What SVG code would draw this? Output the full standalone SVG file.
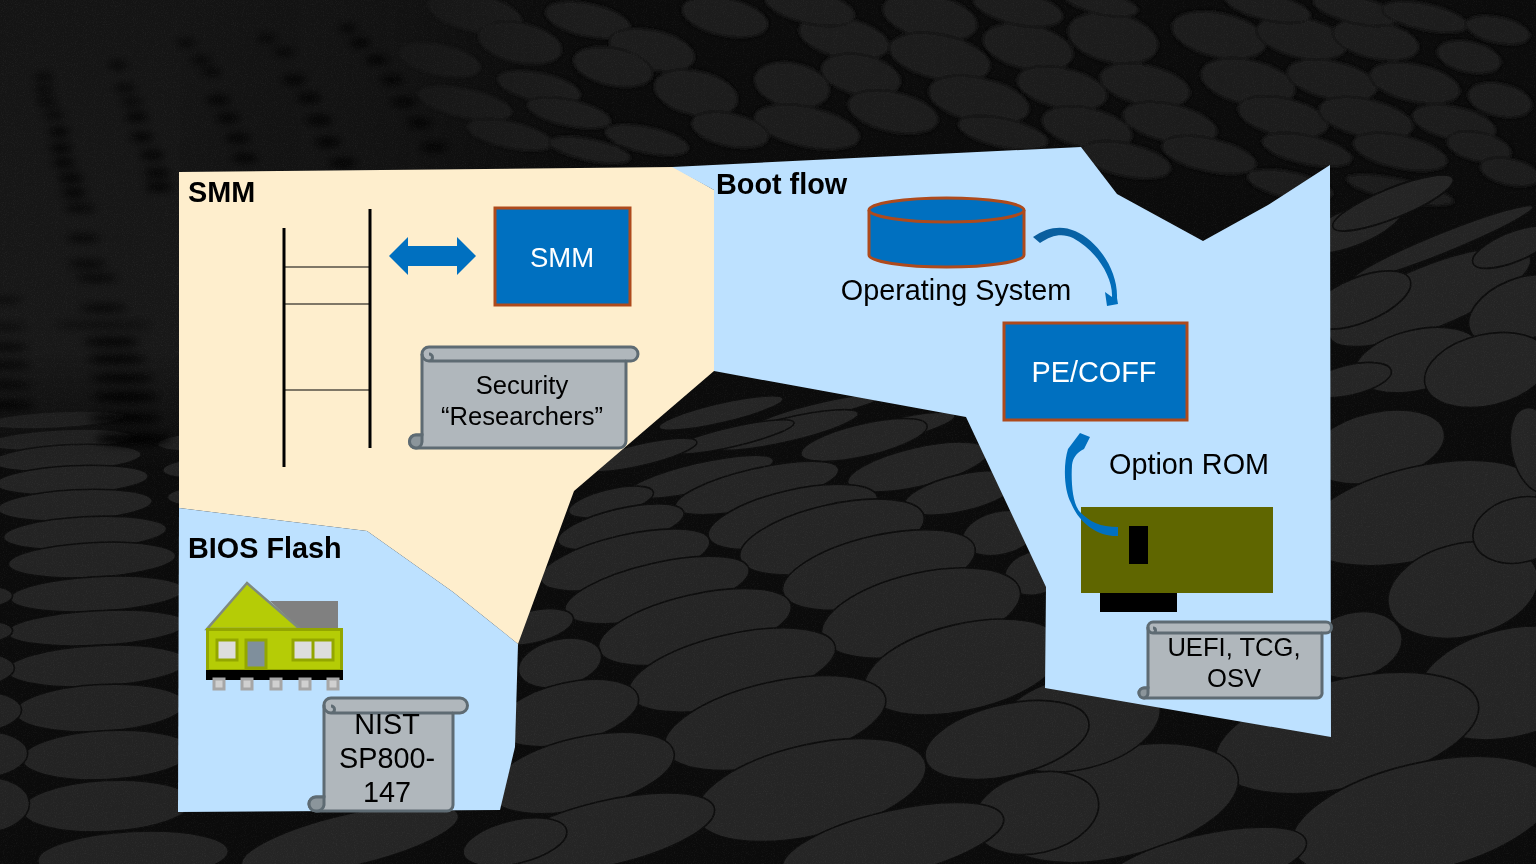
<svg xmlns="http://www.w3.org/2000/svg" width="1536" height="864" viewBox="0 0 1536 864">
<style>
text{font-family:"Liberation Sans",Arial,sans-serif;fill:#000;text-anchor:middle}
.b{font-weight:700;font-size:28.8px;text-anchor:start}
.t{font-size:28.8px}.s{font-size:25.6px}.w{fill:#fff}
.box{fill:#0070c0;stroke:#ae4a1c;stroke-width:3}
.scroll{fill:#b0b7bc;stroke:#5e6b73;stroke-width:3;stroke-linejoin:round}
.curl{fill:#8b959b;stroke:#5e6b73;stroke-width:3}
.rl{fill:none;stroke:#5e6b73;stroke-width:3}
.lad{stroke:#000;stroke-width:3}.rung{stroke:#000;stroke-width:1}
.arr{fill:#0070c0}
.hw{stroke:#93a600;stroke-width:3}
.pin{fill:#d0d0d0;stroke:#a6a6a6;stroke-width:3}
.e ellipse{transform-box:fill-box;transform-origin:center}
.m ellipse{transform:rotate(-13deg) scale(1.06,1.08);stroke:#0d0d0d;stroke-width:1.500}
.r ellipse{transform:rotate(12deg) scale(1.1,1.12);stroke:#0e0e0e;stroke-width:1.500}
.l ellipse{transform:rotate(-3deg) scale(1.06,1.02);stroke:#0d0d0d;stroke-width:1.500}
.q ellipse{transform:rotate(-22deg) scale(1.08,1.25);stroke:#0d0d0d;stroke-width:1.500}
</style>
<defs>
<filter id="soft" x="-20%" y="-20%" width="140%" height="140%"><feGaussianBlur stdDeviation="1.500"/></filter>
<filter id="soft2" x="-50%" y="-200%" width="200%" height="500%"><feGaussianBlur stdDeviation="4"/></filter>
<filter id="grain" x="0" y="0" width="100%" height="100%"><feTurbulence type="fractalNoise" baseFrequency="0.9" numOctaves="2" seed="4"/><feColorMatrix values="0 0 0 0 0.5 0 0 0 0 0.5 0 0 0 0 0.5 1.6 0 0 0 -0.75"/></filter>
<linearGradient id="hazeV" x1="0" y1="0" x2="0" y2="1"><stop offset="0" stop-color="#141414"/><stop offset="0.75" stop-color="#181818"/><stop offset="1" stop-color="#181818" stop-opacity="0"/></linearGradient>
<linearGradient id="hazeH" x1="0" y1="0" x2="1" y2="0"><stop offset="0" stop-color="#141414"/><stop offset="0.5" stop-color="#141414" stop-opacity=".85"/><stop offset="1" stop-color="#141414" stop-opacity="0"/></linearGradient>
<linearGradient id="a1" x1="0" y1="0" x2="1" y2="1"><stop offset="0" stop-color="#0b5c9a"/><stop offset="1" stop-color="#0070c0"/></linearGradient>
</defs>

<g id="background">
<rect width="1536" height="864" fill="#0b0b0b"/>
<g class="e r" fill="#1e1e1e" filter="url(#soft)">
<ellipse cx="930" cy="17" rx="44" ry="20"/><ellipse cx="844" cy="38" rx="42" ry="18"/><ellipse cx="940" cy="57" rx="47" ry="20"/><ellipse cx="1028" cy="47" rx="42" ry="20"/><ellipse cx="1113" cy="38" rx="42" ry="22"/><ellipse cx="1219" cy="35" rx="44" ry="20"/><ellipse cx="1302" cy="38" rx="42" ry="18"/><ellipse cx="1376" cy="40" rx="40" ry="17"/>
<ellipse cx="792" cy="85" rx="35" ry="20"/><ellipse cx="861" cy="75" rx="37" ry="18"/><ellipse cx="979" cy="100" rx="47" ry="20"/><ellipse cx="1062" cy="88" rx="42" ry="18"/><ellipse cx="1145" cy="85" rx="42" ry="18"/><ellipse cx="1248" cy="82" rx="44" ry="20"/><ellipse cx="1332" cy="80" rx="42" ry="17"/><ellipse cx="1415" cy="83" rx="42" ry="17"/>
<ellipse cx="893" cy="112" rx="42" ry="18"/><ellipse cx="807" cy="127" rx="49" ry="18"/><ellipse cx="1003" cy="133" rx="42" ry="13"/><ellipse cx="1087" cy="128" rx="42" ry="18"/><ellipse cx="1170" cy="123" rx="44" ry="17"/><ellipse cx="1283" cy="117" rx="42" ry="17"/><ellipse cx="1366" cy="118" rx="44" ry="17"/><ellipse cx="1454" cy="123" rx="39" ry="15"/>
<ellipse cx="1307" cy="150" rx="42" ry="13"/><ellipse cx="1400" cy="152" rx="44" ry="15"/><ellipse cx="1209" cy="155" rx="44" ry="15"/><ellipse cx="1126" cy="160" rx="42" ry="15"/><ellipse cx="1479" cy="147" rx="30" ry="13"/>
<ellipse cx="810" cy="7" rx="42" ry="15"/><ellipse cx="1018" cy="8" rx="42" ry="15"/><ellipse cx="1101" cy="3" rx="35" ry="10"/><ellipse cx="1268" cy="7" rx="40" ry="12"/><ellipse cx="1356" cy="10" rx="40" ry="12"/><ellipse cx="1425" cy="17" rx="40" ry="12"/><ellipse cx="1498" cy="30" rx="30" ry="12"/><ellipse cx="1469" cy="57" rx="30" ry="14"/><ellipse cx="1500" cy="100" rx="30" ry="15"/><ellipse cx="1510" cy="172" rx="28" ry="12"/><ellipse cx="1400" cy="190" rx="50" ry="10"/><ellipse cx="1290" cy="185" rx="40" ry="12"/>
<ellipse cx="475" cy="13" rx="44" ry="17"/><ellipse cx="520" cy="43" rx="39" ry="18"/><ellipse cx="588" cy="20" rx="40" ry="15"/><ellipse cx="652" cy="50" rx="40" ry="18"/><ellipse cx="725" cy="17" rx="40" ry="17"/><ellipse cx="613" cy="67" rx="37" ry="17"/><ellipse cx="696" cy="93" rx="39" ry="20"/><ellipse cx="539" cy="87" rx="39" ry="13"/><ellipse cx="465" cy="103" rx="44" ry="13"/><ellipse cx="569" cy="113" rx="39" ry="12"/><ellipse cx="647" cy="140" rx="39" ry="12"/><ellipse cx="730" cy="130" rx="36" ry="15"/><ellipse cx="510" cy="135" rx="40" ry="12"/><ellipse cx="590" cy="150" rx="38" ry="10"/><ellipse cx="440" cy="60" rx="38" ry="14"/>
</g>
<g class="e q" fill="#242424">
<ellipse cx="1430" cy="297" rx="100" ry="25"/><ellipse cx="1443" cy="243" rx="90" ry="8"/><ellipse cx="1513" cy="247" rx="40" ry="12"/><ellipse cx="1353" cy="227" rx="50" ry="15"/><ellipse cx="1393" cy="203" rx="60" ry="12"/><ellipse cx="1520" cy="310" rx="50" ry="25"/><ellipse cx="1360" cy="300" rx="50" ry="18"/>
</g>
<g class="e m" fill="#252525">
<ellipse cx="1417" cy="360" rx="60" ry="28"/><ellipse cx="1487" cy="370" rx="60" ry="33"/><ellipse cx="1377" cy="447" rx="65" ry="32"/><ellipse cx="1420" cy="513" rx="113" ry="43"/><ellipse cx="1463" cy="590" rx="72" ry="43"/><ellipse cx="1355" cy="645" rx="45" ry="30"/><ellipse cx="1535" cy="450" rx="22" ry="40"/><ellipse cx="1520" cy="530" rx="45" ry="30"/><ellipse cx="1350" cy="380" rx="40" ry="14"/>
<ellipse cx="1510" cy="683" rx="90" ry="50"/><ellipse cx="1347" cy="733" rx="127" ry="50"/><ellipse cx="1423" cy="817" rx="127" ry="50"/><ellipse cx="1117" cy="803" rx="117" ry="50"/><ellipse cx="1077" cy="723" rx="80" ry="43"/><ellipse cx="1203" cy="865" rx="100" ry="28"/>
<ellipse cx="821" cy="410" rx="60" ry="7"/><ellipse cx="721" cy="413" rx="60" ry="9"/><ellipse cx="893" cy="430" rx="60" ry="10"/><ellipse cx="786" cy="430" rx="70" ry="11"/><ellipse cx="732" cy="437" rx="60" ry="9"/><ellipse cx="864" cy="440" rx="61" ry="15"/><ellipse cx="640" cy="455" rx="55" ry="10"/><ellipse cx="918" cy="467" rx="68" ry="18"/><ellipse cx="700" cy="477" rx="71" ry="13"/><ellipse cx="757" cy="488" rx="79" ry="18"/><ellipse cx="961" cy="493" rx="55" ry="17"/><ellipse cx="611" cy="502" rx="41" ry="12"/><ellipse cx="793" cy="517" rx="82" ry="25"/><ellipse cx="621" cy="527" rx="61" ry="17"/><ellipse cx="1000" cy="533" rx="36" ry="20"/><ellipse cx="832" cy="537" rx="89" ry="30"/><ellipse cx="625" cy="560" rx="82" ry="23"/><ellipse cx="879" cy="570" rx="93" ry="32"/><ellipse cx="1036" cy="573" rx="30" ry="20"/><ellipse cx="657" cy="590" rx="89" ry="25"/><ellipse cx="921" cy="613" rx="96" ry="37"/><ellipse cx="532" cy="627" rx="40" ry="15"/><ellipse cx="695" cy="627" rx="93" ry="30"/><ellipse cx="560" cy="663" rx="40" ry="22"/><ellipse cx="964" cy="667" rx="96" ry="40"/><ellipse cx="732" cy="670" rx="100" ry="33"/><ellipse cx="568" cy="713" rx="68" ry="28"/><ellipse cx="775" cy="723" rx="107" ry="38"/><ellipse cx="1007" cy="740" rx="79" ry="33"/><ellipse cx="582" cy="773" rx="89" ry="33"/><ellipse cx="811" cy="790" rx="111" ry="42"/><ellipse cx="1036" cy="813" rx="60" ry="37"/><ellipse cx="607" cy="833" rx="104" ry="30"/><ellipse cx="893" cy="843" rx="107" ry="30"/>
<ellipse cx="350" cy="840" rx="105" ry="24"/><ellipse cx="515" cy="842" rx="50" ry="20"/>
</g>
<g class="e l" fill="#232323">
<ellipse cx="55" cy="420" rx="65" ry="8"/><ellipse cx="60" cy="440" rx="68" ry="10"/><ellipse cx="67" cy="458" rx="70" ry="13"/><ellipse cx="72" cy="480" rx="72" ry="14"/><ellipse cx="75" cy="505" rx="73" ry="15"/><ellipse cx="85" cy="533" rx="77" ry="16"/><ellipse cx="92" cy="560" rx="79" ry="17"/><ellipse cx="97" cy="594" rx="82" ry="17"/><ellipse cx="97" cy="628" rx="85" ry="17"/><ellipse cx="97" cy="666" rx="85" ry="20"/><ellipse cx="100" cy="708" rx="80" ry="23"/><ellipse cx="107" cy="755" rx="80" ry="24"/><ellipse cx="107" cy="806" rx="80" ry="25"/><ellipse cx="133" cy="856" rx="90" ry="24"/>
<ellipse cx="-35" cy="598" rx="45" ry="13"/><ellipse cx="-35" cy="633" rx="45" ry="13"/><ellipse cx="-30" cy="670" rx="42" ry="17"/><ellipse cx="-25" cy="712" rx="44" ry="20"/><ellipse cx="-20" cy="755" rx="45" ry="23"/><ellipse cx="-15" cy="805" rx="42" ry="27"/>
<ellipse cx="200" cy="442" rx="40" ry="9"/><ellipse cx="205" cy="468" rx="40" ry="10"/><ellipse cx="215" cy="495" rx="45" ry="11"/>
</g>
<rect x="0" y="0" width="180" height="470" fill="url(#hazeV)"/>
<rect x="180" y="0" width="400" height="172" fill="url(#hazeH)"/>
<g fill="#000" filter="url(#soft2)">
<ellipse cx="44" cy="77" rx="10" ry="3"/><ellipse cx="44" cy="90" rx="10" ry="3"/><ellipse cx="47" cy="102" rx="11" ry="3"/><ellipse cx="54" cy="115" rx="11" ry="3"/><ellipse cx="59" cy="132" rx="11" ry="4"/><ellipse cx="61" cy="148" rx="12" ry="4"/><ellipse cx="64" cy="163" rx="12" ry="4"/><ellipse cx="71" cy="178" rx="13" ry="4"/><ellipse cx="74" cy="193" rx="13" ry="4"/>
<ellipse cx="118" cy="65" rx="10" ry="3"/><ellipse cx="125" cy="88" rx="11" ry="3"/><ellipse cx="132" cy="102" rx="11" ry="3"/><ellipse cx="137" cy="117" rx="12" ry="4"/><ellipse cx="142" cy="137" rx="12" ry="4"/><ellipse cx="152" cy="155" rx="13" ry="4"/><ellipse cx="157" cy="173" rx="13" ry="4"/><ellipse cx="159" cy="187" rx="14" ry="4"/>
<ellipse cx="186" cy="43" rx="10" ry="3"/><ellipse cx="201" cy="60" rx="11" ry="3"/><ellipse cx="211" cy="72" rx="11" ry="3"/><ellipse cx="218" cy="100" rx="12" ry="4"/><ellipse cx="228" cy="118" rx="12" ry="4"/><ellipse cx="238" cy="138" rx="13" ry="4"/><ellipse cx="245" cy="158" rx="13" ry="4"/>
<ellipse cx="267" cy="38" rx="10" ry="3"/><ellipse cx="284" cy="52" rx="11" ry="3"/><ellipse cx="294" cy="80" rx="12" ry="4"/><ellipse cx="309" cy="98" rx="12" ry="4"/><ellipse cx="319" cy="120" rx="13" ry="4"/><ellipse cx="328" cy="142" rx="13" ry="4"/><ellipse cx="343" cy="163" rx="14" ry="4"/>
<ellipse cx="348" cy="28" rx="10" ry="3"/><ellipse cx="360" cy="43" rx="11" ry="4"/><ellipse cx="377" cy="60" rx="12" ry="4"/><ellipse cx="392" cy="80" rx="12" ry="4"/><ellipse cx="404" cy="102" rx="13" ry="4"/><ellipse cx="419" cy="123" rx="13" ry="4"/><ellipse cx="434" cy="147" rx="14" ry="4"/>
<ellipse cx="80" cy="208" rx="16" ry="3"/><ellipse cx="83" cy="238" rx="18" ry="3"/><ellipse cx="87" cy="264" rx="20" ry="3"/><ellipse cx="97" cy="278" rx="22" ry="3"/><ellipse cx="103" cy="308" rx="24" ry="3"/><ellipse cx="103" cy="325" rx="50" ry="2"/><ellipse cx="112" cy="342" rx="28" ry="4"/><ellipse cx="117" cy="359" rx="30" ry="4"/><ellipse cx="122" cy="378" rx="32" ry="4"/><ellipse cx="125" cy="397" rx="34" ry="5"/><ellipse cx="125" cy="418" rx="36" ry="5"/><ellipse cx="133" cy="439" rx="38" ry="6"/>
<ellipse cx="5" cy="300" rx="18" ry="2"/><ellipse cx="5" cy="327" rx="22" ry="2"/><ellipse cx="5" cy="347" rx="24" ry="3"/><ellipse cx="5" cy="365" rx="26" ry="3"/><ellipse cx="5" cy="385" rx="28" ry="3"/><ellipse cx="5" cy="405" rx="30" ry="4"/>
</g>
<rect width="1536" height="864" filter="url(#grain)" opacity=".1"/>
</g>

<g id="panels">
<polygon id="panel-smm" fill="#feeecd" points="179,172 674,167 714,190 714,371 574,491 518,644 453,592 367,531 179,508"/>
<polygon id="panel-bios" fill="#bde1ff" points="179,508 367,531 453,592 518,644 515,747 500,810 178,812"/>
<polygon id="panel-boot" fill="#bde1ff" points="672,167 1081,147 1117,194 1203,241 1268,205 1330,165 1331,737 1045,688 1046,587 966,417 714,371 714,190"/>
</g>

<g id="smm-title"><text class="b" x="188" y="202">SMM</text></g>
<g id="bios-title"><text class="b" x="188" y="558">BIOS Flash</text></g>
<g id="boot-title"><text class="b" x="716" y="194">Boot flow</text></g>

<g id="ladder">
<line class="lad" x1="284" y1="228" x2="284" y2="467"/>
<line class="lad" x1="370" y1="209" x2="370" y2="448"/>
<line class="rung" x1="284" y1="267" x2="370" y2="267"/>
<line class="rung" x1="284" y1="304" x2="370" y2="304"/>
<line class="rung" x1="284" y1="390" x2="370" y2="390"/>
</g>

<g id="smm-box"><rect class="box" x="495" y="208" width="135" height="97"/><text class="w" x="562" y="267" font-size="27.5">SMM</text></g>

<g id="security-scroll">
<path class="scroll" d="M429,347H631a7,7 0 0 1 0,14H626V441a7,7 0 0 1 -7,7H416a6.500,6.500 0 0 1 0,-13H422V354a7,7 0 0 1 7,-7Z"/>
<path class="rl" d="M422,354a7,7 0 0 0 7,7H626M429,361a3.500,3.500 0 0 0 0,-7"/>
<path class="curl" d="M422,442a6.500,6.500 0 0 1 -6,6a6.500,6.500 0 0 1 0,-13H422Z"/>
<text class="s" x="522" y="394">Security</text><text class="s" x="522" y="425">“Researchers”</text>
</g>

<g id="bios-chip">
<polygon points="270,601 338,601 338,629 300,629" fill="#808080"/>
<polygon points="247,583 207,629 300,629" fill="#b5cc06" stroke="#7f8a7f" stroke-width="2.500"/>
<rect x="207.500" y="629.500" width="134" height="41" fill="#b5cc06" stroke="#93a600" stroke-width="3"/>
<rect x="206" y="670" width="137" height="10" fill="#000"/>
<rect class="hw" x="217" y="640" width="20" height="20" fill="#ddd"/>
<rect class="hw" x="246" y="640" width="20" height="28" fill="#7f8f9c"/>
<rect class="hw" x="293" y="640" width="40" height="20" fill="#ddd"/>
<line class="hw" x1="313" y1="640" x2="313" y2="660"/>
<rect class="pin" x="214" y="679" width="10" height="10"/><rect class="pin" x="242" y="679" width="10" height="10"/><rect class="pin" x="271" y="679" width="10" height="10"/><rect class="pin" x="300" y="679" width="10" height="10"/><rect class="pin" x="328" y="679" width="10" height="10"/>
</g>

<g id="nist-scroll">
<path class="scroll" d="M331,698H460a7.500,7.500 0 0 1 0,15H453V805a6,6 0 0 1 -6,6H316a7,7 0 0 1 0,-14H324V705a7,7 0 0 1 7,-7Z"/>
<path class="rl" d="M324,705a7,7 0 0 0 7,8H453M331,713a3.500,3.500 0 0 0 0,-7"/>
<path class="curl" d="M324,805a7,7 0 0 1 -8,6a7,7 0 0 1 0,-14H324Z"/>
<text class="t" x="387" y="734">NIST</text><text class="t" x="387" y="768">SP800-</text><text class="t" x="387" y="802">147</text>
</g>

<g id="os-cylinder">
<path class="box" d="M869,210V255A77.500,12 0 0 0 1024,255V210"/>
<ellipse class="box" cx="946.500" cy="210" rx="77.500" ry="12"/>
<text class="t" x="956" y="300">Operating System</text>
</g>

<g id="pe-coff"><rect class="box" x="1004" y="323" width="183" height="97"/><text class="t w" x="1094" y="382">PE/COFF</text></g>

<g id="option-rom">
<text class="t" x="1189" y="474">Option ROM</text>
<rect x="1081" y="507" width="192" height="86" fill="#5f6600"/>
<rect x="1129" y="526" width="19" height="38" fill="#000"/>
<rect x="1100" y="593" width="77" height="19" fill="#000"/>
</g>

<g id="uefi-scroll">
<path class="scroll" d="M1153,622H1326a5,5 0 0 1 0,11H1322V692a5,5 0 0 1 -5,6H1144a5,5 0 0 1 0,-10H1148V627a5,5 0 0 1 5,-5Z"/>
<path class="rl" d="M1148,627a5,5 0 0 0 5,6H1322M1153,633a2.500,2.500 0 0 0 0,-5"/>
<path class="curl" d="M1148,693a5,5 0 0 1 -4,5a5,5 0 0 1 0,-10H1148Z"/>
<text class="s" x="1234" y="656">UEFI, TCG,</text><text class="s" x="1234" y="687">OSV</text>
</g>

<g id="connectors">
<path id="link-smm" class="arr" d="M389,256L408,237V246H457V237L476,256L457,275V266H408V275Z"/>
<path id="link-os-pe" fill="url(#a1)" d="M1033,237C1047,227 1062,225 1075,231C1098,241 1118,270 1117,298L1118,304L1107,306L1105,292L1112,297C1113,277 1096,250 1073,238C1062,233 1052,235 1040,243Z"/>
<path id="link-rom-pe" class="arr" d="M1118,536L1118,527C1100,527 1090,522 1080,512C1072,503 1071,480 1072,465C1073,458 1076,453 1084,449L1090,437L1080,433L1068,449C1063,465 1064,490 1071,503C1080,525 1100,537 1118,536Z"/>
</g>
</svg>
